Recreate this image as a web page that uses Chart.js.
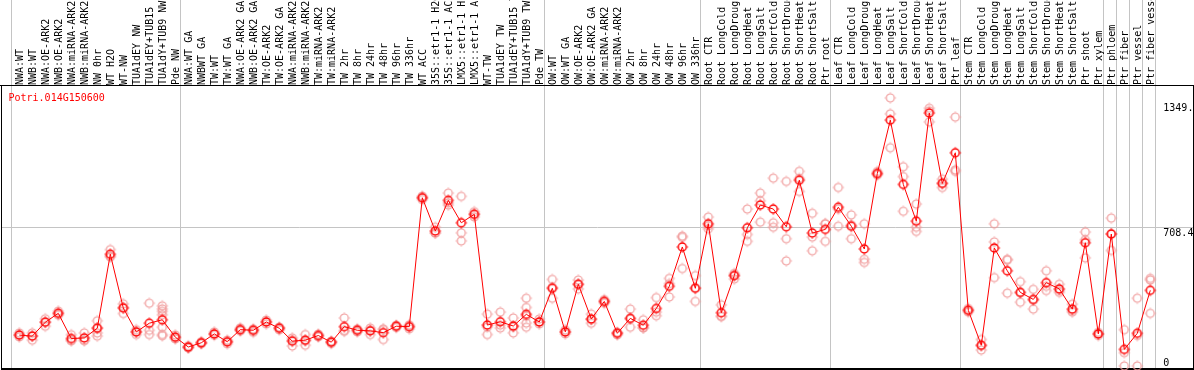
<!DOCTYPE html>
<html><head><meta charset="utf-8">
<script src="https://cdn.jsdelivr.net/npm/chart.js@4.4.0/dist/chart.umd.min.js"></script>
<style>
html,body{margin:0;padding:0;overflow:hidden;background:#fff;width:1194px;height:370px}
canvas{display:block}
</style></head><body>
<canvas id="c" width="1194" height="376" style="width:1194px;height:376px"></canvas>
<script>
const geneName = "Potri.014G150600";
const categories = [
  "NWA:WT","NWB:WT","NWA:OE-ARK2","NWB:OE-ARK2","NWA:miRNA-ARK2","NWB:miRNA-ARK2","NW 0hr","WT H2O","WT-NW","TUA1dEY NW","TUA1dEY+TUB15 NW","TUA1dY+TUB9 NW","Pde NW",
  "NWA:WT GA","NWBWT GA","TW:WT","TW:WT GA","NWA:OE-ARK2 GA","NWB:OE-ARK2 GA","TW:OE-ARK2","TW:OE-ARK2 GA","NWA:miRNA-ARK2 GA","NWB:miRNA-ARK2 GA","TW:miRNA-ARK2","TW:miRNA-ARK2",
  "TW 2hr","TW 8hr","TW 24hr","TW 48hr","TW 96hr","TW 336hr","WT ACC","35S::etr1-1 H2O","35S::etr1-1 ACC","LMX5::etr1-1 H2O","LMX5::etr1-1 ACC","WT-TW","TUA1dEY TW","TUA1dEY+TUB15 TW","TUA1dY+TUB9 TW","Pde TW",
  "OW:WT","OW:WT GA","OW:OE-ARK2","OW:OE-ARK2 GA","OW:miRNA-ARK2","OW:miRNA-ARK2","OW 2hr","OW 8hr","OW 24hr","OW 48hr","OW 96hr","OW 336hr",
  "Root CTR","Root LongCold","Root LongDrought","Root LongHeat","Root LongSalt","Root ShortCold","Root ShortDrought","Root ShortHeat","Root ShortSalt","Ptr root",
  "Leaf CTR","Leaf LongCold","Leaf LongDrought","Leaf LongHeat","Leaf LongSalt","Leaf ShortCold","Leaf ShortDrought","Leaf ShortHeat","Leaf ShortSalt","Ptr leaf",
  "Stem CTR","Stem LongCold","Stem LongDrought","Stem LongHeat","Stem LongSalt","Stem ShortCold","Stem ShortDrought","Stem ShortHeat","Stem ShortSalt","Ptr shoot","Ptr xylem",
  "Ptr phloem","Ptr fiber","Ptr vessel","Ptr fiber vessel"
];
const meanValues = [
  173,168,237,281,156,159,207,574,307,189,
  232,249,163,114,135,179,140,200,197,238,
  207,143,148,171,138,215,197,194,185,217,
  215,854,689,841,730,772,223,239,218,276,
  238,405,189,425,253,340,182,256,222,305,
  415,610,405,725,284,468,705,818,798,710,
  941,679,697,807,713,600,974,1239,920,738,
  1274,925,1077,296,123,605,492,385,350,433,
  402,302,631,179,674,102,182,395
];
const replicateValues = [
  [184,174,164],[184,169,148],[254,238,217],[292,282,272],[175,146,146],[184,146,147],[244,210,184,168],[597,566,560],[328,312,280],[200,176,189],
  [331,197,176],[318,303,291,274,212,176,170],[174,159,154],[120,110,110],[140,135,130],[189,172,179],[148,140,130],[209,200,193],[204,197,187],[248,238,228],
  [213,207,199],[159,119,150],[176,123,145],[178,171,164],[144,138,132],[258,192,196],[204,197,189],[208,197,176],[200,151,204],[222,217,211],
  [224,215,204],[862,854,845],[708,679,679],[877,818,828],[861,680,640],[785,772,759],[277,176,213],[287,208,223],[258,184,213],[356,310,267,212,233],
  [253,228,238],[449,356,410],[199,189,179],[446,402,425],[277,232,249],[349,340,331],[187,182,174],[302,212,254],[249,209,209],[359,269,287],
  [454,362,428],[664,503,658],[468,340,408],[758,700,715],[323,266,266],[479,451,469],[798,672,638],[877,839,733],[951,730,708],[935,651,541],
  [985,885,950],[777,659,591],[725,638,725],[905,713,798],[769,651,720],[725,549,533],[984,974,966],[1349,1270,1102],[1008,959,787],[823,708,687],
  [1298,1285,1230],[946,905,926],[1254,992,985],[305,296,287],[151,99,120],[725,635,458],[549,381,545],[438,336,383],[400,302,346],[492,394,415],
  [425,385,395],[326,287,295],[684,556,646],[187,179,171],[753,593,676],[200,20,86],[356,20,171],[454,446,281]
];
const groupBoundaries = [0,13,41,53,63,73,84,85,86,87,88];
const yTickValues = [1349, 708.4, 0];
const yTickLabels = ["1349.", "708.4", "0"];
const yAxisMax = 1413;

const FONT = '10px "DejaVu Sans Mono", "Liberation Mono", monospace';

function makeMarker(color, lw, r, spike) {
  const c = document.createElement('canvas');
  c.width = 16; c.height = 16;
  const g = c.getContext('2d');
  const m = 8;
  g.strokeStyle = color;
  g.lineWidth = lw;
  g.beginPath(); g.arc(m, m, r, 0, Math.PI * 2); g.stroke();
  g.fillStyle = color;
  g.fillRect(m - 0.5, m - r - lw / 2 - spike, 1, spike);
  g.fillRect(m - 0.5, m + r + lw / 2, 1, spike);
  g.fillRect(m - r - lw / 2 - spike, m - 0.5, spike, 1);
  g.fillRect(m + r + lw / 2, m - 0.5, spike, 1);
  return c;
}
const meanMarker = makeMarker('#ff0000', 1.5, 4, 1);
const repMarker = makeMarker('#f09a9a', 1.2, 4, 1);

const maxReps = Math.max(...replicateValues.map(a => a.length));
const repDatasets = [];
for (let k = 0; k < maxReps; k++) {
  repDatasets.push({
    label: 'replicate ' + (k + 1),
    data: replicateValues.map(a => (k < a.length ? a[k] : null)),
    showLine: false, pointStyle: repMarker, pointRadius: 5, clip: false,
    borderColor: '#f09a9a', spanGaps: false
  });
}

const framePlugin = {
  id: 'frame',
  beforeDatasetsDraw(chart) {
    const ctx = chart.ctx, xs = chart.scales.x, ys = chart.scales.y, a = chart.chartArea;
    ctx.save();
    ctx.strokeStyle = '#c4c4c4';
    ctx.lineWidth = 1;
    const gy = Math.round(ys.getPixelForValue(yTickValues[1])) + 0.5;
    ctx.beginPath(); ctx.moveTo(2, gy); ctx.lineTo(chart.width - 1, gy); ctx.stroke();
    groupBoundaries.forEach(k => {
      const x = Math.round(xs.getPixelForValue(k) - 8) + 0.5;
      ctx.beginPath(); ctx.moveTo(x, 0); ctx.lineTo(x, 368); ctx.stroke();
    });
    ctx.fillStyle = '#000';
    ctx.fillRect(0, Math.round(a.top), chart.width, 1);
    ctx.fillRect(1, Math.round(a.top), 1, 368 - Math.round(a.top));
    ctx.fillRect(chart.width - 1, Math.round(a.top), 1, 368 - Math.round(a.top));
    ctx.fillRect(1, 368, chart.width - 1, 2);
    ctx.restore();
  },
  afterDraw(chart) {
    const ctx = chart.ctx, xs = chart.scales.x, ys = chart.scales.y, a = chart.chartArea;
    ctx.save();
    ctx.font = FONT;
    ctx.fillStyle = '#000';
    ctx.textBaseline = 'alphabetic';
    ctx.textAlign = 'left';
    categories.forEach((lab, i) => {
      const x = xs.getPixelForValue(i);
      ctx.save();
      ctx.translate(x + 4, a.top);
      ctx.rotate(-Math.PI / 2);
      ctx.fillText(lab, 0, 0);
      ctx.restore();
    });
    const labX = xs.getPixelForValue(categories.length - 1) + 13;
    yTickValues.forEach((v, i) => {
      let y = ys.getPixelForValue(v) + 9;
      y = Math.min(Math.max(y, a.top + 26), 366);
      ctx.fillText(yTickLabels[i], labX, y);
    });
    ctx.fillStyle = '#ff0000';
    ctx.fillText(geneName, 8.5, a.top + 16);
    ctx.restore();
  }
};

new Chart(document.getElementById('c').getContext('2d'), {
  type: 'line',
  data: {
    labels: categories,
    datasets: [
      { label: 'mean', data: meanValues, borderColor: '#ff0000', borderWidth: 1, pointStyle: meanMarker,
        pointRadius: 5, tension: 0, clip: false, fill: false },
      ...repDatasets
    ]
  },
  options: {
    responsive: false, animation: false, devicePixelRatio: 1, events: [],
    layout: { padding: { left: 12.8, right: 37.2, top: 85, bottom: 3.6 } },
    scales: {
      x: { type: 'category', display: false, offset: true },
      y: { display: false, min: 0, max: yAxisMax }
    },
    plugins: { legend: { display: false }, tooltip: { enabled: false } }
  },
  plugins: [framePlugin]
});
</script>
</body></html>
